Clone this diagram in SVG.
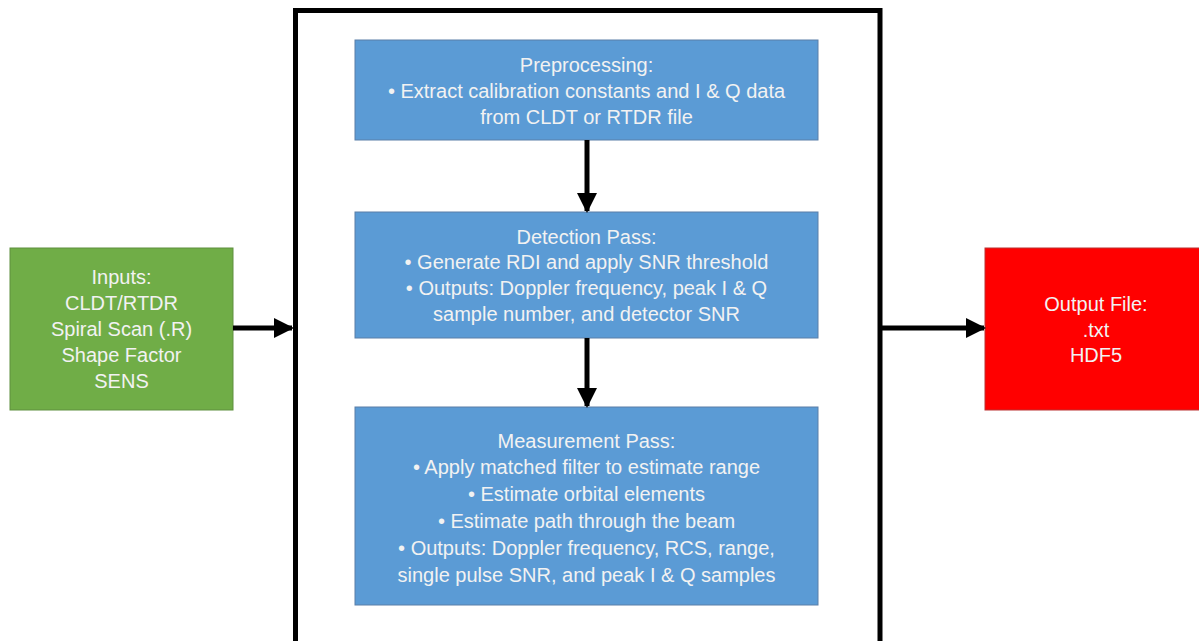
<svg xmlns="http://www.w3.org/2000/svg" width="1199" height="641" viewBox="0 0 1199 641">
<style>
.t{font-family:"Liberation Sans",Arial,sans-serif;font-size:20px;fill:#f2f2f2;text-anchor:middle}
.blue{fill:#5b9bd5;stroke:#5a7fa8;stroke-width:1}
.conn{stroke:#000;stroke-width:5;fill:none}
</style>
<defs>
<marker id="ah" viewBox="0 0 10 10" refX="9" refY="5" markerWidth="4" markerHeight="4" orient="auto" markerUnits="strokeWidth">
<path d="M0,0 L10,5 L0,10 z" fill="#000"/>
</marker>
</defs>
<rect width="1199" height="641" fill="#fff"/>
<g id="frame"><path d="M295.5,645 V10.5 H880 V645" fill="none" stroke="#000" stroke-width="5"/></g>
<g id="inputs">
<rect x="10" y="248" width="223" height="162" fill="#70ad47" stroke="#5f8f3e"/>
<text class="t" x="121.5" y="284">Inputs:</text>
<text class="t" x="121.5" y="310">CLDT/RTDR</text>
<text class="t" x="121.5" y="336">Spiral Scan (.R)</text>
<text class="t" x="121.5" y="362">Shape Factor</text>
<text class="t" x="121.5" y="388">SENS</text>
</g>
<g id="preprocessing">
<rect class="blue" x="355" y="40" width="463" height="100"/>
<text class="t" x="586.5" y="72">Preprocessing:</text>
<text class="t" x="586.5" y="98">• Extract calibration constants and I &amp; Q data</text>
<text class="t" x="586.5" y="124">from CLDT or RTDR file</text>
</g>
<g id="detection">
<rect class="blue" x="355" y="212" width="463" height="126"/>
<text class="t" x="586.5" y="244">Detection Pass:</text>
<text class="t" x="586.5" y="269">• Generate RDI and apply SNR threshold</text>
<text class="t" x="586.5" y="295">• Outputs: Doppler frequency, peak I &amp; Q</text>
<text class="t" x="586.5" y="321">sample number, and detector SNR</text>
</g>
<g id="measurement">
<rect class="blue" x="355" y="407" width="463" height="198"/>
<text class="t" x="586.5" y="448">Measurement Pass:</text>
<text class="t" x="586.5" y="474">• Apply matched filter to estimate range</text>
<text class="t" x="586.5" y="501">• Estimate orbital elements</text>
<text class="t" x="586.5" y="528">• Estimate path through the beam</text>
<text class="t" x="586.5" y="555">• Outputs: Doppler frequency, RCS, range,</text>
<text class="t" x="586.5" y="582">single pulse SNR, and peak I &amp; Q samples</text>
</g>
<g id="output">
<rect x="985" y="248" width="220" height="162" fill="#ff0000" stroke="#b33"/>
<text class="t" x="1096" y="311">Output File:</text>
<text class="t" x="1096" y="337">.txt</text>
<text class="t" x="1096" y="362">HDF5</text>
</g>
<g id="connectors">
<line class="conn" x1="233" y1="328" x2="292" y2="328" marker-end="url(#ah)"/>
<line class="conn" x1="587" y1="140" x2="587" y2="211" marker-end="url(#ah)"/>
<line class="conn" x1="587" y1="338" x2="587" y2="406" marker-end="url(#ah)"/>
<line class="conn" x1="880" y1="328" x2="984" y2="328" marker-end="url(#ah)"/>
</g>
</svg>
